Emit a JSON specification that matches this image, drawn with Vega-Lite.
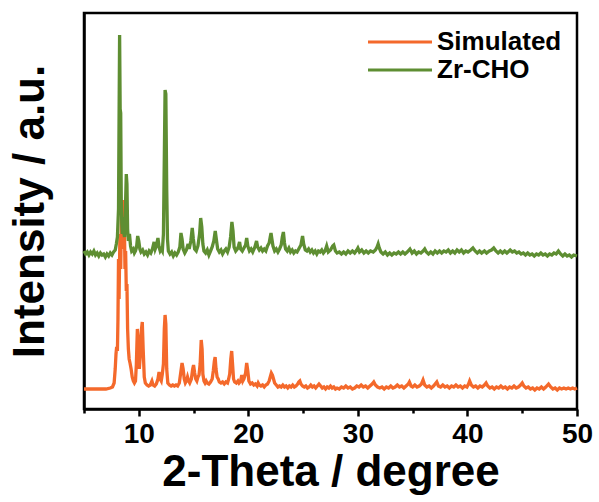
{
 "$schema": "https://vega.github.io/schema/vega-lite/v6.json",
 "width": 493,
 "height": 396,
 "autosize": {"type": "none"},
 "padding": {"left": 84, "top": 13, "right": 22, "bottom": 93},
 "background": "white",
 "config": {"view": {"stroke": "black", "strokeWidth": 2.5}, "font": "Liberation Sans"},
 "datasets": {
  "sim": [
   {"t":5.0,"i":20},{"t":5.5,"i":20},{"t":6.0,"i":20},{"t":6.5,"i":20},{"t":7.0,"i":20},{"t":7.4,"i":21},{"t":7.6,"i":22},{"t":7.75,"i":26},{"t":7.85,"i":40},{"t":7.92,"i":55},{"t":7.98,"i":62},{"t":8.05,"i":58},{"t":8.1,"i":90},{"t":8.15,"i":150},{"t":8.2,"i":110},{"t":8.28,"i":175},{"t":8.35,"i":140},{"t":8.42,"i":200},{"t":8.5,"i":185},{"t":8.56,"i":209},{"t":8.62,"i":160},{"t":8.68,"i":190},{"t":8.74,"i":140},{"t":8.8,"i":158},{"t":8.86,"i":118},{"t":8.92,"i":125},{"t":8.98,"i":80},{"t":9.05,"i":60},{"t":9.12,"i":50},{"t":9.2,"i":46},{"t":9.3,"i":40},{"t":9.4,"i":32},{"t":9.5,"i":28},{"t":9.6,"i":26},{"t":9.7,"i":28},{"t":9.78,"i":45},{"t":9.87,"i":80},{"t":9.95,"i":70},{"t":10.05,"i":40},{"t":10.15,"i":55},{"t":10.25,"i":80},{"t":10.32,"i":87},{"t":10.4,"i":60},{"t":10.5,"i":32},{"t":10.6,"i":26},{"t":10.75,"i":24},{"t":10.9,"i":23},{"t":11.05,"i":24},{"t":11.2,"i":28},{"t":11.3,"i":24},{"t":11.45,"i":23},{"t":11.6,"i":25},{"t":11.75,"i":30},{"t":11.85,"i":37},{"t":11.95,"i":30},{"t":12.05,"i":28},{"t":12.15,"i":35},{"t":12.25,"i":45},{"t":12.33,"i":80},{"t":12.4,"i":94},{"t":12.47,"i":85},{"t":12.55,"i":40},{"t":12.65,"i":26},{"t":12.8,"i":24},{"t":12.95,"i":23},{"t":13.1,"i":24},{"t":13.25,"i":23},{"t":13.4,"i":24},{"t":13.55,"i":23},{"t":13.7,"i":26},{"t":13.85,"i":38},{"t":13.95,"i":46},{"t":14.05,"i":40},{"t":14.15,"i":30},{"t":14.25,"i":26},{"t":14.35,"i":28},{"t":14.45,"i":32},{"t":14.55,"i":28},{"t":14.65,"i":26},{"t":14.8,"i":30},{"t":14.92,"i":40},{"t":15.0,"i":44},{"t":15.1,"i":36},{"t":15.2,"i":30},{"t":15.3,"i":28},{"t":15.4,"i":32},{"t":15.5,"i":34},{"t":15.6,"i":45},{"t":15.7,"i":69},{"t":15.78,"i":60},{"t":15.85,"i":35},{"t":15.95,"i":28},{"t":16.05,"i":26},{"t":16.15,"i":28},{"t":16.25,"i":26},{"t":16.4,"i":25},{"t":16.55,"i":27},{"t":16.7,"i":30},{"t":16.8,"i":38},{"t":16.9,"i":48},{"t":16.97,"i":52},{"t":17.05,"i":40},{"t":17.15,"i":32},{"t":17.25,"i":30},{"t":17.35,"i":27},{"t":17.5,"i":26},{"t":17.65,"i":27},{"t":17.8,"i":25},{"t":17.95,"i":27},{"t":18.1,"i":26},{"t":18.2,"i":30},{"t":18.3,"i":35},{"t":18.4,"i":50},{"t":18.48,"i":58},{"t":18.56,"i":45},{"t":18.65,"i":30},{"t":18.75,"i":27},{"t":18.9,"i":26},{"t":19.05,"i":28},{"t":19.15,"i":26},{"t":19.3,"i":28},{"t":19.4,"i":34},{"t":19.5,"i":28},{"t":19.6,"i":30},{"t":19.75,"i":36},{"t":19.85,"i":46},{"t":19.95,"i":38},{"t":20.05,"i":28},{"t":20.2,"i":25},{"t":20.35,"i":26},{"t":20.5,"i":24},{"t":20.65,"i":25},{"t":20.8,"i":23},{"t":20.9,"i":26},{"t":21.0,"i":24},{"t":21.15,"i":23},{"t":21.3,"i":24},{"t":21.45,"i":22},{"t":21.6,"i":24},{"t":21.75,"i":25},{"t":21.9,"i":28},{"t":22.0,"i":32},{"t":22.1,"i":36},{"t":22.2,"i":34},{"t":22.3,"i":30},{"t":22.4,"i":26},{"t":22.55,"i":24},{"t":22.7,"i":22},{"t":22.85,"i":23},{"t":23.0,"i":22},{"t":23.15,"i":24},{"t":23.3,"i":22},{"t":23.45,"i":23},{"t":23.6,"i":21},{"t":23.75,"i":23},{"t":23.9,"i":22},{"t":24.05,"i":24},{"t":24.2,"i":22},{"t":24.35,"i":23},{"t":24.5,"i":25},{"t":24.6,"i":27},{"t":24.7,"i":28},{"t":24.8,"i":25},{"t":24.95,"i":23},{"t":25.1,"i":22},{"t":25.25,"i":23},{"t":25.4,"i":21},{"t":25.55,"i":22},{"t":25.7,"i":24},{"t":25.85,"i":22},{"t":26.0,"i":23},{"t":26.15,"i":21},{"t":26.3,"i":23},{"t":26.45,"i":25},{"t":26.6,"i":23},{"t":26.75,"i":21},{"t":26.9,"i":22},{"t":27.05,"i":20},{"t":27.2,"i":22},{"t":27.35,"i":21},{"t":27.5,"i":23},{"t":27.65,"i":21},{"t":27.8,"i":22},{"t":27.95,"i":20},{"t":28.1,"i":21},{"t":28.3,"i":20},{"t":28.5,"i":22},{"t":28.7,"i":21},{"t":28.9,"i":23},{"t":29.1,"i":21},{"t":29.3,"i":22},{"t":29.5,"i":20},{"t":29.7,"i":21},{"t":29.9,"i":23},{"t":30.1,"i":22},{"t":30.3,"i":24},{"t":30.5,"i":22},{"t":30.7,"i":23},{"t":30.9,"i":21},{"t":31.1,"i":23},{"t":31.3,"i":25},{"t":31.45,"i":27},{"t":31.6,"i":24},{"t":31.8,"i":22},{"t":32.0,"i":21},{"t":32.2,"i":22},{"t":32.4,"i":20},{"t":32.6,"i":22},{"t":32.8,"i":21},{"t":33.0,"i":23},{"t":33.2,"i":21},{"t":33.4,"i":22},{"t":33.6,"i":24},{"t":33.8,"i":22},{"t":34.0,"i":23},{"t":34.2,"i":21},{"t":34.4,"i":23},{"t":34.6,"i":25},{"t":34.7,"i":27},{"t":34.85,"i":23},{"t":35.0,"i":22},{"t":35.2,"i":24},{"t":35.4,"i":22},{"t":35.6,"i":23},{"t":35.8,"i":25},{"t":35.95,"i":29},{"t":36.1,"i":24},{"t":36.3,"i":22},{"t":36.5,"i":23},{"t":36.7,"i":21},{"t":36.9,"i":23},{"t":37.05,"i":25},{"t":37.2,"i":27},{"t":37.35,"i":23},{"t":37.55,"i":22},{"t":37.75,"i":24},{"t":37.95,"i":22},{"t":38.15,"i":23},{"t":38.35,"i":21},{"t":38.55,"i":23},{"t":38.75,"i":22},{"t":38.95,"i":24},{"t":39.15,"i":22},{"t":39.35,"i":23},{"t":39.55,"i":21},{"t":39.75,"i":23},{"t":39.95,"i":22},{"t":40.1,"i":25},{"t":40.2,"i":28},{"t":40.35,"i":24},{"t":40.55,"i":22},{"t":40.75,"i":23},{"t":40.95,"i":21},{"t":41.15,"i":23},{"t":41.35,"i":22},{"t":41.55,"i":24},{"t":41.7,"i":26},{"t":41.85,"i":23},{"t":42.05,"i":21},{"t":42.25,"i":22},{"t":42.45,"i":20},{"t":42.65,"i":22},{"t":42.85,"i":21},{"t":43.05,"i":23},{"t":43.25,"i":21},{"t":43.45,"i":22},{"t":43.65,"i":20},{"t":43.85,"i":22},{"t":44.05,"i":21},{"t":44.25,"i":23},{"t":44.45,"i":21},{"t":44.65,"i":22},{"t":44.85,"i":24},{"t":45.0,"i":26},{"t":45.15,"i":23},{"t":45.35,"i":21},{"t":45.55,"i":22},{"t":45.75,"i":20},{"t":45.95,"i":21},{"t":46.15,"i":19},{"t":46.35,"i":21},{"t":46.55,"i":20},{"t":46.75,"i":22},{"t":46.95,"i":20},{"t":47.15,"i":22},{"t":47.4,"i":25},{"t":47.6,"i":22},{"t":47.8,"i":20},{"t":48.0,"i":21},{"t":48.2,"i":19},{"t":48.4,"i":21},{"t":48.6,"i":20},{"t":48.8,"i":21},{"t":49.0,"i":20},{"t":49.2,"i":21},{"t":49.4,"i":20},{"t":49.6,"i":21},{"t":49.8,"i":20},{"t":50.0,"i":21}
  ],
  "zr": [
   {"t":5.0,"i":158},{"t":5.15,"i":155},{"t":5.3,"i":157},{"t":5.45,"i":154},{"t":5.6,"i":157},{"t":5.75,"i":155},{"t":5.9,"i":158},{"t":6.05,"i":154},{"t":6.2,"i":156},{"t":6.35,"i":153},{"t":6.5,"i":156},{"t":6.65,"i":154},{"t":6.8,"i":155},{"t":6.95,"i":152},{"t":7.1,"i":155},{"t":7.25,"i":153},{"t":7.4,"i":156},{"t":7.55,"i":154},{"t":7.7,"i":157},{"t":7.85,"i":159},{"t":7.95,"i":165},{"t":8.05,"i":172},{"t":8.15,"i":200},{"t":8.2,"i":290},{"t":8.25,"i":374},{"t":8.3,"i":300},{"t":8.35,"i":296},{"t":8.4,"i":210},{"t":8.45,"i":185},{"t":8.5,"i":175},{"t":8.55,"i":192},{"t":8.6,"i":178},{"t":8.7,"i":172},{"t":8.78,"i":200},{"t":8.86,"i":235},{"t":8.92,"i":225},{"t":8.98,"i":180},{"t":9.05,"i":168},{"t":9.15,"i":175},{"t":9.25,"i":163},{"t":9.35,"i":158},{"t":9.5,"i":160},{"t":9.6,"i":156},{"t":9.7,"i":158},{"t":9.8,"i":162},{"t":9.9,"i":173},{"t":10.0,"i":168},{"t":10.1,"i":160},{"t":10.2,"i":157},{"t":10.35,"i":159},{"t":10.5,"i":155},{"t":10.65,"i":157},{"t":10.8,"i":154},{"t":10.95,"i":158},{"t":11.1,"i":156},{"t":11.25,"i":160},{"t":11.4,"i":167},{"t":11.5,"i":160},{"t":11.6,"i":163},{"t":11.75,"i":171},{"t":11.85,"i":162},{"t":11.95,"i":158},{"t":12.05,"i":160},{"t":12.15,"i":158},{"t":12.25,"i":175},{"t":12.33,"i":250},{"t":12.4,"i":319},{"t":12.47,"i":315},{"t":12.55,"i":220},{"t":12.62,"i":170},{"t":12.7,"i":158},{"t":12.85,"i":155},{"t":13.0,"i":157},{"t":13.15,"i":153},{"t":13.3,"i":156},{"t":13.45,"i":154},{"t":13.6,"i":157},{"t":13.75,"i":162},{"t":13.85,"i":176},{"t":13.95,"i":170},{"t":14.05,"i":160},{"t":14.2,"i":156},{"t":14.35,"i":159},{"t":14.5,"i":165},{"t":14.6,"i":160},{"t":14.75,"i":168},{"t":14.88,"i":181},{"t":14.98,"i":170},{"t":15.1,"i":160},{"t":15.25,"i":158},{"t":15.4,"i":163},{"t":15.55,"i":175},{"t":15.65,"i":191},{"t":15.75,"i":182},{"t":15.85,"i":165},{"t":15.95,"i":158},{"t":16.1,"i":156},{"t":16.25,"i":159},{"t":16.4,"i":154},{"t":16.55,"i":158},{"t":16.7,"i":162},{"t":16.85,"i":168},{"t":16.98,"i":178},{"t":17.1,"i":168},{"t":17.2,"i":160},{"t":17.35,"i":157},{"t":17.5,"i":159},{"t":17.65,"i":155},{"t":17.8,"i":158},{"t":17.95,"i":160},{"t":18.1,"i":157},{"t":18.25,"i":162},{"t":18.38,"i":172},{"t":18.5,"i":187},{"t":18.6,"i":178},{"t":18.7,"i":162},{"t":18.85,"i":158},{"t":19.0,"i":160},{"t":19.1,"i":163},{"t":19.2,"i":167},{"t":19.3,"i":160},{"t":19.45,"i":158},{"t":19.6,"i":161},{"t":19.75,"i":164},{"t":19.85,"i":171},{"t":19.95,"i":163},{"t":20.1,"i":158},{"t":20.25,"i":160},{"t":20.4,"i":157},{"t":20.6,"i":162},{"t":20.75,"i":168},{"t":20.85,"i":162},{"t":21.0,"i":159},{"t":21.15,"i":161},{"t":21.3,"i":158},{"t":21.45,"i":160},{"t":21.6,"i":158},{"t":21.75,"i":163},{"t":21.9,"i":166},{"t":22.0,"i":172},{"t":22.07,"i":176},{"t":22.15,"i":170},{"t":22.25,"i":163},{"t":22.4,"i":158},{"t":22.55,"i":160},{"t":22.7,"i":157},{"t":22.85,"i":160},{"t":23.0,"i":164},{"t":23.1,"i":172},{"t":23.2,"i":177},{"t":23.3,"i":166},{"t":23.4,"i":160},{"t":23.55,"i":158},{"t":23.7,"i":161},{"t":23.85,"i":157},{"t":24.0,"i":159},{"t":24.15,"i":156},{"t":24.3,"i":158},{"t":24.45,"i":157},{"t":24.6,"i":160},{"t":24.8,"i":164},{"t":24.95,"i":173},{"t":25.05,"i":165},{"t":25.2,"i":159},{"t":25.35,"i":158},{"t":25.5,"i":160},{"t":25.65,"i":157},{"t":25.8,"i":159},{"t":25.95,"i":156},{"t":26.1,"i":158},{"t":26.25,"i":155},{"t":26.4,"i":158},{"t":26.55,"i":157},{"t":26.7,"i":159},{"t":26.85,"i":156},{"t":27.0,"i":158},{"t":27.15,"i":163},{"t":27.3,"i":157},{"t":27.5,"i":159},{"t":27.7,"i":163},{"t":27.8,"i":164},{"t":27.95,"i":158},{"t":28.1,"i":156},{"t":28.3,"i":157},{"t":28.5,"i":155},{"t":28.7,"i":157},{"t":28.9,"i":155},{"t":29.1,"i":158},{"t":29.3,"i":156},{"t":29.5,"i":158},{"t":29.7,"i":156},{"t":29.9,"i":159},{"t":30.0,"i":161},{"t":30.15,"i":157},{"t":30.35,"i":159},{"t":30.55,"i":156},{"t":30.75,"i":158},{"t":30.95,"i":156},{"t":31.15,"i":158},{"t":31.4,"i":157},{"t":31.6,"i":159},{"t":31.75,"i":162},{"t":31.85,"i":165},{"t":31.95,"i":161},{"t":32.1,"i":157},{"t":32.3,"i":155},{"t":32.5,"i":157},{"t":32.7,"i":154},{"t":32.9,"i":156},{"t":33.1,"i":154},{"t":33.3,"i":156},{"t":33.5,"i":155},{"t":33.7,"i":157},{"t":33.9,"i":155},{"t":34.1,"i":157},{"t":34.3,"i":155},{"t":34.5,"i":157},{"t":34.75,"i":160},{"t":34.95,"i":156},{"t":35.15,"i":158},{"t":35.35,"i":155},{"t":35.55,"i":157},{"t":35.75,"i":156},{"t":35.95,"i":158},{"t":36.1,"i":160},{"t":36.25,"i":157},{"t":36.45,"i":155},{"t":36.65,"i":157},{"t":36.85,"i":155},{"t":37.05,"i":158},{"t":37.25,"i":156},{"t":37.45,"i":158},{"t":37.65,"i":156},{"t":37.85,"i":158},{"t":38.05,"i":157},{"t":38.25,"i":159},{"t":38.45,"i":156},{"t":38.65,"i":158},{"t":38.85,"i":156},{"t":39.05,"i":159},{"t":39.25,"i":157},{"t":39.45,"i":159},{"t":39.65,"i":156},{"t":39.85,"i":158},{"t":40.05,"i":157},{"t":40.3,"i":159},{"t":40.5,"i":161},{"t":40.7,"i":158},{"t":40.9,"i":156},{"t":41.1,"i":158},{"t":41.3,"i":156},{"t":41.55,"i":158},{"t":41.75,"i":156},{"t":42.0,"i":158},{"t":42.2,"i":159},{"t":42.4,"i":161},{"t":42.6,"i":158},{"t":42.8,"i":156},{"t":43.0,"i":158},{"t":43.2,"i":156},{"t":43.4,"i":158},{"t":43.6,"i":156},{"t":43.9,"i":159},{"t":44.1,"i":157},{"t":44.3,"i":158},{"t":44.5,"i":156},{"t":44.7,"i":157},{"t":44.9,"i":155},{"t":45.1,"i":156},{"t":45.3,"i":154},{"t":45.5,"i":156},{"t":45.7,"i":154},{"t":45.9,"i":155},{"t":46.1,"i":153},{"t":46.3,"i":155},{"t":46.5,"i":154},{"t":46.7,"i":156},{"t":46.9,"i":154},{"t":47.1,"i":155},{"t":47.3,"i":153},{"t":47.5,"i":155},{"t":47.7,"i":154},{"t":47.9,"i":156},{"t":48.1,"i":155},{"t":48.3,"i":158},{"t":48.5,"i":155},{"t":48.7,"i":153},{"t":48.9,"i":155},{"t":49.1,"i":153},{"t":49.3,"i":154},{"t":49.5,"i":152},{"t":49.7,"i":154},{"t":50.0,"i":153}
  ]
 },
 "encoding": {
  "x": {
   "field": "t", "type": "quantitative",
   "scale": {"domain": [5, 50], "nice": false, "zero": false},
   "axis": {
    "values": [5, 10, 15, 20, 25, 30, 35, 40, 45, 50],
    "labelExpr": "datum.value % 10 === 0 ? datum.label : ''",
    "tickSize": {"condition": {"test": "datum.value % 10 === 0", "value": 7}, "value": 4},
    "tickColor": "black", "tickWidth": 2.5,
    "domainColor": "black", "domainWidth": 2.5,
    "grid": false, "labelFlush": false, "labelOverlap": false,
    "labelFont": "Liberation Sans", "labelFontWeight": "bold", "labelFontSize": 28, "labelColor": "black", "labelPadding": 4,
    "title": "2-Theta / degree", "titleFont": "Liberation Sans", "titleFontWeight": "bold", "titleFontSize": 44, "titleColor": "black", "titlePadding": 2
   }
  },
  "y": {
   "field": "i", "type": "quantitative",
   "scale": {"domain": [0, 396], "nice": false, "zero": false},
   "axis": {
    "ticks": false, "labels": false, "grid": false,
    "domainColor": "black", "domainWidth": 2.5,
    "title": "Intensity / a.u.", "titleFont": "Liberation Sans", "titleFontWeight": "bold", "titleFontSize": 44, "titleColor": "black", "titlePadding": 32
   }
  }
 },
 "layer": [
  {
   "data": {"name": "sim"},
   "mark": {"type": "line", "strokeWidth": 3.3},
   "encoding": {
    "color": {
     "datum": "Simulated", "type": "nominal",
     "scale": {"domain": ["Simulated", "Zr-CHO"], "range": ["#F4692B", "#5E8E32"]},
     "legend": {
      "orient": "none", "legendX": 303, "legendY": 16, "title": null,
      "symbolType": "M-4,0H4", "symbolSize": 256, "symbolStrokeWidth": 3,
      "labelFont": "Liberation Sans", "labelFontWeight": "bold", "labelFontSize": 26, "labelColor": "black",
      "labelOffset": 24, "padding": 0, "rowPadding": 2
     }
    }
   }
  },
  {
   "data": {"name": "zr"},
   "mark": {"type": "line", "strokeWidth": 3.3},
   "encoding": {
    "color": {"datum": "Zr-CHO", "type": "nominal"}
   }
  }
 ]
}
